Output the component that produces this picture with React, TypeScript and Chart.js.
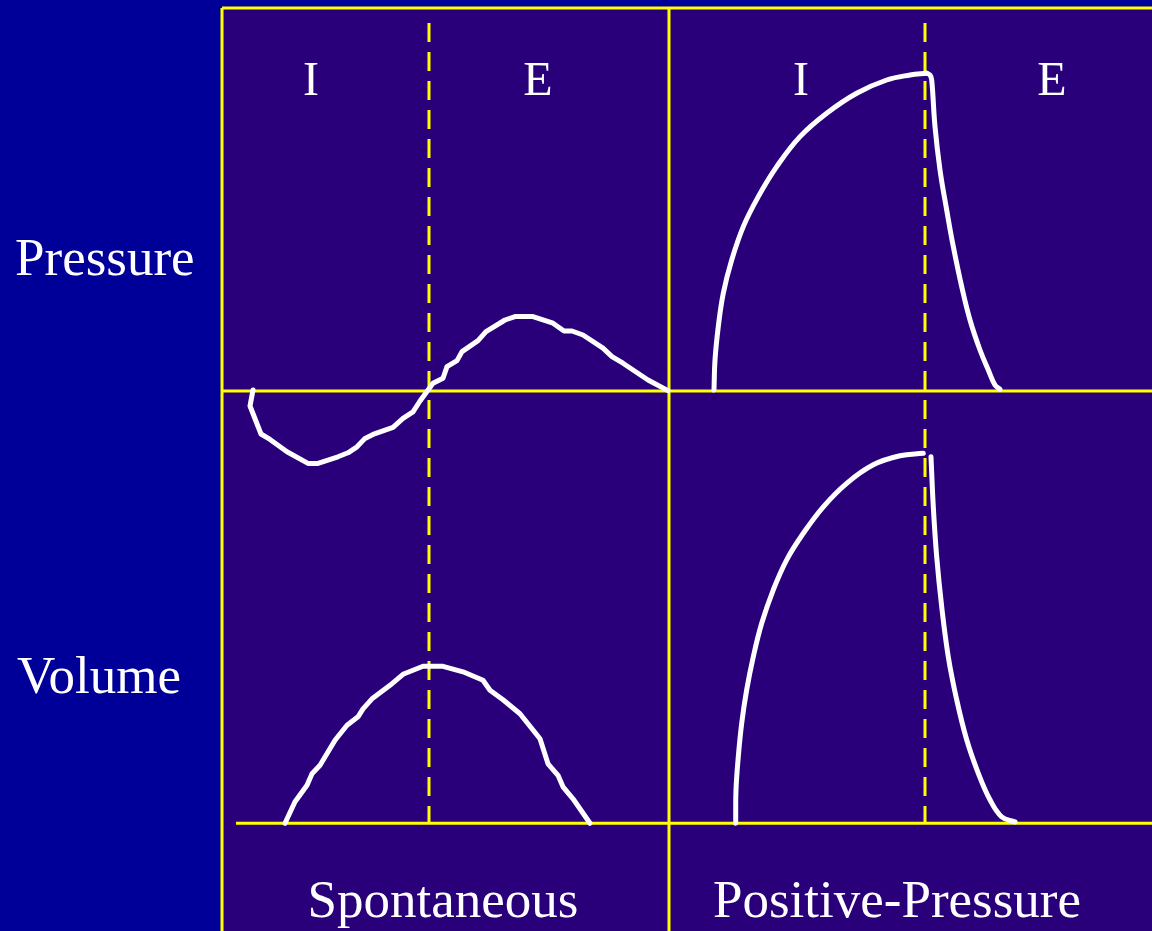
import React, { useEffect, useRef } from "react";
import { Chart, registerables } from "chart.js";

Chart.register(...registerables);

// ---- Data (time in s, pressure in cmH2O, volume in mL) ----
const spontTimeP = [0.31, 0.28, 0.39, 0.48, 0.65, 0.86, 0.96, 1.16, 1.26, 1.35, 1.43, 1.51, 1.71, 1.81, 1.91, 1.98, 2.11, 2.21, 2.25, 2.35, 2.4, 2.56, 2.64, 2.83, 2.93, 3.11, 3.31, 3.42, 3.5, 3.61, 3.81, 3.9, 4.01, 4.26, 4.46];
const spontPressure = [0.05, -0.75, -2.15, -2.42, -3.04, -3.62, -3.62, -3.29, -3.09, -2.79, -2.37, -2.17, -1.82, -1.37, -1.04, -0.5, 0.39, 0.64, 1.22, 1.52, 1.97, 2.52, 2.97, 3.55, 3.72, 3.72, 3.39, 3.0, 3.0, 2.8, 2.14, 1.72, 1.39, 0.55, 0.02];

const spontTimeV = [0.63, 0.73, 0.85, 0.9, 0.98, 1.13, 1.25, 1.36, 1.41, 1.5, 1.68, 1.81, 2.01, 2.21, 2.41, 2.61, 2.68, 2.81, 2.98, 3.18, 3.26, 3.36, 3.41, 3.51, 3.68];
const spontVolume = [0, 43, 76, 99, 116, 166, 196, 213, 229, 249, 276, 298, 314, 314, 303, 286, 266, 247, 219, 169, 119, 96, 73, 49, 0];

const ppTimePRise = [4.92, 4.93, 4.963, 5.013, 5.097, 5.213, 5.363, 5.547, 5.78, 6.047, 6.347, 6.647, 6.88, 7.047];
const ppPressureRise = [0.05, 1.55, 3.22, 4.89, 6.55, 8.22, 9.72, 11.22, 12.72, 13.89, 14.89, 15.55, 15.8, 15.89];
const ppTimePFall = [7.047, 7.08, 7.097, 7.13, 7.18, 7.247, 7.313, 7.397, 7.48, 7.58, 7.663, 7.73, 7.78];
const ppPressureFall = [15.89, 15.8, 15.55, 13.22, 11.05, 9.05, 7.22, 5.22, 3.55, 2.05, 1.05, 0.3, 0.09];

const ppTimeVRise = [5.137, 5.14, 5.163, 5.197, 5.247, 5.313, 5.397, 5.513, 5.647, 5.813, 6.013, 6.247, 6.513, 6.78, 7.013];
const ppVolumeRise = [0, 67, 133, 200, 267, 333, 400, 467, 527, 580, 633, 680, 717, 735, 740];
const ppTimeVFall = [7.09, 7.113, 7.147, 7.197, 7.263, 7.347, 7.447, 7.563, 7.68, 7.797, 7.93];
const ppVolumeFall = [733, 633, 533, 433, 333, 247, 167, 100, 47, 13, 3];

// frame / phase boundaries (time, s)
const FRAME_LEFT_T = 0;
const PANEL_SPLIT_T = 4.47;
const IE_SPONT_T = 2.07;
const IE_PP_T = 7.03;
const VOL_BASE_START_T = 0.14;

const X_MIN = -2.22;
const X_MAX = 9.3;
const P_MIN = -27;
const P_MAX = 19.55;
const V_MIN = -215.4;
const V_MAX = 1646.6;
const FRAME_TOP_P = 19.15;
const DASH_TOP_P = 18.4;
const DASH_BOTTOM_P = -21.6;

const rowLabels = ["Pressure", "Volume"];
const phaseLabels = ["I", "E", "I", "E"];
const modeLabels = ["Spontaneous", "Positive-Pressure"];

const pts = (xs: number[], ys: number[]) => xs.map((x, i) => ({ x, y: ys[i] }));

const WHITE = "#ffffff";
const YELLOW = "#ffff00";
const SERIF = '"Liberation Serif", "Times New Roman", serif';

const bgPlugin = {
  id: "bg",
  beforeDraw(chart: any) {
    const { ctx, width, height, scales } = chart;
    ctx.save();
    ctx.fillStyle = "#000099";
    ctx.fillRect(0, 0, width, height);
    const x0 = scales.x.getPixelForValue(FRAME_LEFT_T);
    const y0 = scales.yP.getPixelForValue(FRAME_TOP_P);
    ctx.fillStyle = "#2a007a";
    ctx.fillRect(x0, y0, width - x0, height - y0);
    ctx.restore();
  },
};

const textPlugin = {
  id: "texts",
  afterDraw(chart: any) {
    const { ctx } = chart;
    ctx.save();
    ctx.fillStyle = WHITE;
    ctx.textBaseline = "alphabetic";
    ctx.font = `53px ${SERIF}`;
    ctx.textAlign = "left";
    ctx.fillText(rowLabels[0], 15, 275);
    ctx.fillText(rowLabels[1], 17, 693);
    ctx.textAlign = "center";
    ctx.fillText(modeLabels[0], 443, 917);
    ctx.fillText(modeLabels[1], 897, 917);
    ctx.font = `48px ${SERIF}`;
    const px = [311, 538, 801, 1052];
    phaseLabels.forEach((l, i) => ctx.fillText(l, px[i], 95));
    ctx.restore();
  },
};

function curve(data: any[], axis: string, smooth: boolean) {
  return {
    data,
    yAxisID: axis,
    showLine: true,
    borderColor: WHITE,
    borderWidth: 5,
    pointRadius: 0,
    borderJoinStyle: "round",
    borderCapStyle: "round",
    tension: smooth ? 0.4 : 0,
    order: 0,
  };
}

function rule(data: any[], axis: string, dashed: boolean) {
  return {
    data,
    yAxisID: axis,
    showLine: true,
    borderColor: YELLOW,
    borderWidth: 3,
    pointRadius: 0,
    borderDash: dashed ? [19, 10] : [],
    borderCapStyle: "butt",
    tension: 0,
    order: 1,
  };
}

export default function App() {
  const ref = useRef<HTMLCanvasElement>(null);
  useEffect(() => {
    if (!ref.current) return;
    const chart = new Chart(ref.current, {
      type: "scatter",
      data: {
        datasets: [
          curve(pts(spontTimeP, spontPressure), "yP", false),
          curve(pts(spontTimeV, spontVolume), "yV", false),
          curve(pts(ppTimePRise, ppPressureRise), "yP", true),
          curve(pts(ppTimePFall, ppPressureFall), "yP", true),
          curve(pts(ppTimeVRise, ppVolumeRise), "yV", true),
          curve(pts(ppTimeVFall, ppVolumeFall), "yV", true),
          rule([{ x: FRAME_LEFT_T, y: FRAME_TOP_P }, { x: X_MAX, y: FRAME_TOP_P }], "yP", false),
          rule([{ x: FRAME_LEFT_T, y: FRAME_TOP_P }, { x: FRAME_LEFT_T, y: P_MIN }], "yP", false),
          rule([{ x: PANEL_SPLIT_T, y: FRAME_TOP_P }, { x: PANEL_SPLIT_T, y: P_MIN }], "yP", false),
          rule([{ x: FRAME_LEFT_T, y: 0 }, { x: X_MAX, y: 0 }], "yP", false),
          rule([{ x: VOL_BASE_START_T, y: 0 }, { x: X_MAX, y: 0 }], "yV", false),
          rule([{ x: IE_SPONT_T, y: DASH_TOP_P }, { x: IE_SPONT_T, y: DASH_BOTTOM_P }], "yP", true),
          rule([{ x: IE_PP_T, y: DASH_TOP_P }, { x: IE_PP_T, y: DASH_BOTTOM_P }], "yP", true),
        ] as any,
      },
      options: {
        animation: false,
        responsive: false,
        devicePixelRatio: 1,
        events: [],
        layout: { padding: 0 },
        plugins: { legend: { display: false }, tooltip: { enabled: false }, title: { display: false } },
        scales: {
          x: { type: "linear", min: X_MIN, max: X_MAX, bounds: "data", display: false },
          yP: { type: "linear", position: "left", min: P_MIN, max: P_MAX, bounds: "data", display: false },
          yV: { type: "linear", position: "right", min: V_MIN, max: V_MAX, bounds: "data", display: false },
        },
      } as any,
      plugins: [bgPlugin, textPlugin],
    });
    return () => chart.destroy();
  }, []);
  return (
    <div style={{ position: "absolute", left: 0, top: 0, width: 1152, height: 931 }}>
      <canvas ref={ref} width={1152} height={931} style={{ display: "block" }} />
    </div>
  );
}
